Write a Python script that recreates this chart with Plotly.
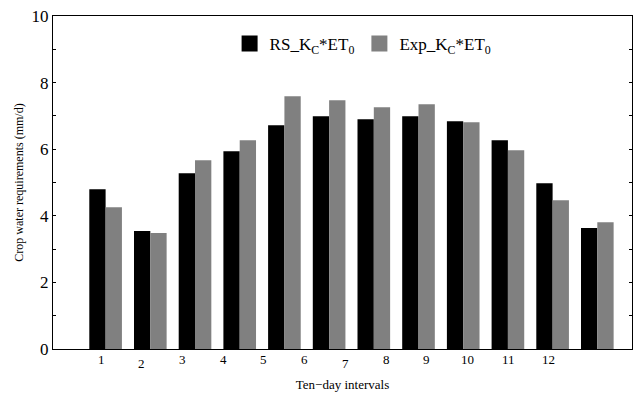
import plotly.graph_objects as go

intervals = list(range(1, 13))
tick_labels = [str(i) for i in intervals]
rs_values = [4.80, 3.54, 5.28, 5.94, 6.72, 6.99, 6.90, 6.99, 6.84, 6.27, 4.98, 3.63]
exp_values = [4.26, 3.48, 5.67, 6.27, 7.59, 7.47, 7.26, 7.35, 6.81, 5.97, 4.47, 3.81]
lowered_labels = {"2", "7"}

FONT = "Liberation Serif"

fig = go.Figure()
fig.add_trace(go.Bar(x=intervals, y=rs_values, marker=dict(color="black", line=dict(width=0)),
                     showlegend=False))
fig.add_trace(go.Bar(x=intervals, y=exp_values, marker=dict(color="#808080", line=dict(width=0)),
                     showlegend=False))
# legend entries
fig.add_trace(go.Scatter(x=[None], y=[None], mode="markers",
                         marker=dict(symbol="square", size=18, color="black"),
                         name="RS_K<sub>C</sub>*ET<sub>0</sub>"))
fig.add_trace(go.Scatter(x=[None], y=[None], mode="markers",
                         marker=dict(symbol="square", size=18, color="#808080"),
                         name="Exp_K<sub>C</sub>*ET<sub>0</sub>"))

annotations = []
for lab, pos in zip(tick_labels, intervals):
    annotations.append(dict(x=pos, y=0, xref="x2", yref="paper", text=lab, showarrow=False,
                            yanchor="top", xanchor="center",
                            yshift=-5 if lab in lowered_labels else -1,
                            font=dict(family=FONT, size=13, color="black")))

fig.update_layout(
    width=635, height=395,
    margin=dict(l=53, r=3, t=16, b=46),
    paper_bgcolor="white", plot_bgcolor="white",
    barmode="group", bargap=0.27, bargroupgap=0,
    font=dict(family=FONT, color="black"),
    legend=dict(x=0.305, y=0.97, xanchor="left", yanchor="top", orientation="h",
                font=dict(family=FONT, size=17, color="black"), bgcolor="rgba(0,0,0,0)",
                itemwidth=30, tracegroupgap=0),
    xaxis=dict(range=[-0.177, 12.776], showline=True, mirror=True, linecolor="black",
               linewidth=1, ticks="", showticklabels=False, showgrid=False, zeroline=False,
               title=dict(text="Ten\u2212day intervals", font=dict(family=FONT, size=13),
                          standoff=30)),
    xaxis2=dict(range=[-0.18, 14.04], overlaying="x", showline=False, showticklabels=False,
                ticks="", showgrid=False, zeroline=False),
    yaxis=dict(range=[0, 10], showline=True, mirror="ticks", linecolor="black", linewidth=1,
               ticks="inside", ticklen=3, tickcolor="black",
               tickvals=list(range(0, 11)),
               ticktext=[str(v) if v % 2 == 0 else "" for v in range(0, 11)],
               tickfont=dict(family=FONT, size=17, color="black"),
               showgrid=False, zeroline=False,
               title=dict(text="Crop water requirements (mm/d)",
                          font=dict(family=FONT, size=12), standoff=5)),
    annotations=annotations,
)

fig.write_html("out.html")
